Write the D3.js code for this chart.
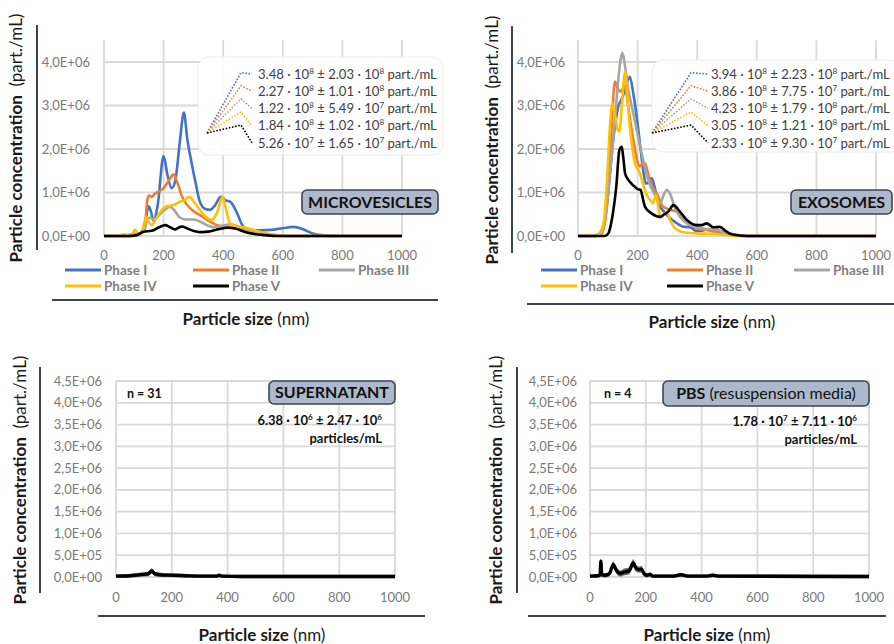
<!DOCTYPE html>
<html><head><meta charset="utf-8">
<script src="https://cdn.jsdelivr.net/npm/d3@7"></script>
<style>
body{margin:0;background:#fff}
svg{display:block;font-family:Lato,"Open Sans",sans-serif}
</style>
</head><body>
<svg id="fig" width="894" height="644"></svg>
<script>
// ---- Data (sizes in nm, concentrations in 10^6 part./mL) ----
const phaseNames = ["Phase I", "Phase II", "Phase III", "Phase IV", "Phase V"];
const phaseColors = ["#4472c4", "#ed7d31", "#a5a5a5", "#ffc000", "#000000"];
const xTicks = [0, 200, 400, 600, 800, 1000];
const yTicksTop = [0, 1, 2, 3, 4];
const yTicksBottom = [0, 0.5, 1, 1.5, 2, 2.5, 3, 3.5, 4, 4.5];

// Microvesicles, one [size, conc] list per phase
const mvPhase1 = [[0,0],[60,0],[110,0.02],[135,0.2],[150,0.68],[158,0.55],[166,0.35],[180,0.7],[200,1.84],[213,1.4],[227,1.1],[240,1.3],[255,2.2],[268,2.84],[280,2.2],[294,1.68],[308,1.2],[322,0.78],[340,0.62],[356,0.6],[372,0.7],[392,0.9],[408,0.82],[425,0.78],[445,0.55],[467,0.22],[490,0.14],[520,0.13],[560,0.14],[600,0.18],[636,0.21],[670,0.15],[700,0.06],[730,0.02],[780,0],[1000,0]];
const mvPhase2 = [[0,0],[60,0],[100,0.03],[125,0.08],[138,0.3],[146,0.85],[152,0.93],[160,0.9],[170,0.97],[185,1.03],[200,1.1],[215,1.25],[233,1.41],[245,1.25],[261,0.92],[275,0.75],[289,0.64],[305,0.55],[322,0.48],[340,0.4],[356,0.33],[380,0.25],[400,0.22],[430,0.2],[460,0.17],[500,0.12],[540,0.05],[580,0.02],[620,0],[1000,0]];
const mvPhase3 = [[0,0],[60,0],[110,0.02],[135,0.12],[145,0.38],[155,0.42],[165,0.38],[180,0.45],[200,0.58],[221,0.67],[235,0.6],[255,0.42],[275,0.38],[300,0.38],[320,0.34],[345,0.25],[370,0.2],[400,0.24],[425,0.27],[450,0.22],[480,0.14],[510,0.08],[550,0.03],[600,0],[1000,0]];
const mvPhase4 = [[0,0],[50,0],[65,0.04],[80,0.03],[95,0.05],[104,0.14],[115,0.04],[128,0.1],[141,0.44],[150,0.33],[160,0.25],[175,0.4],[194,0.6],[210,0.68],[225,0.7],[240,0.73],[255,0.79],[270,0.82],[286,0.9],[300,0.8],[322,0.6],[340,0.45],[361,0.37],[380,0.55],[398,0.9],[410,0.6],[423,0.29],[445,0.22],[470,0.2],[500,0.14],[530,0.08],[570,0.03],[620,0],[1000,0]];
const mvPhase5 = [[0,0],[80,0],[110,0.02],[132,0.1],[160,0.12],[185,0.2],[205,0.25],[222,0.2],[238,0.15],[250,0.19],[261,0.22],[280,0.17],[305,0.11],[330,0.09],[350,0.1],[380,0.15],[416,0.19],[440,0.17],[470,0.1],[500,0.05],[540,0.02],[580,0],[1000,0]];

// Exosomes, one [size, conc] list per phase
const exoPhase1 = [[0,0],[50,0],[70,0.02],[85,0.2],[100,0.9],[118,2.2],[135,2.97],[150,3.2],[165,3.55],[174,3.66],[185,3.3],[197,2.74],[210,2.0],[219,1.5],[228,1.2],[238,1.25],[247,1.33],[258,1.1],[270,0.75],[290,0.55],[309,0.41],[330,0.3],[350,0.22],[376,0.2],[395,0.12],[410,0.11],[430,0.15],[450,0.12],[480,0.08],[520,0.03],[560,0],[1000,0]];
const exoPhase2 = [[0,0],[50,0],[75,0.02],[90,0.3],[100,0.9],[112,2.4],[124,3.55],[133,3.4],[141,3.32],[150,3.38],[158,3.4],[170,2.9],[186,2.2],[200,1.7],[208,1.6],[218,1.68],[225,1.67],[240,1.3],[252,1.1],[264,0.98],[286,0.67],[310,0.6],[331,0.56],[350,0.4],[376,0.25],[400,0.18],[432,0.14],[470,0.08],[510,0.04],[560,0],[1000,0]];
const exoPhase3 = [[0,0],[40,0],[70,0.05],[90,0.4],[105,1.3],[118,2.2],[130,3.2],[140,3.9],[149,4.21],[158,3.9],[169,3.36],[183,2.9],[197,2.44],[212,1.95],[225,1.55],[240,1.2],[258,0.95],[275,0.75],[288,0.95],[298,1.06],[310,0.95],[325,0.65],[342,0.44],[370,0.27],[400,0.2],[430,0.16],[460,0.15],[500,0.07],[540,0.02],[580,0],[1000,0]];
const exoPhase4 = [[0,0],[30,0],[40,0.03],[55,0],[75,0.05],[88,0.4],[100,1.6],[108,2.6],[115,3.05],[125,2.75],[133,2.45],[139,2.4],[147,3.0],[158,3.78],[166,3.2],[174,2.51],[183,2.0],[191,1.67],[200,1.55],[208,1.44],[218,1.2],[230,0.95],[242,0.83],[252,0.75],[262,0.94],[270,0.65],[277,0.42],[288,0.5],[298,0.55],[310,0.35],[331,0.15],[360,0.08],[400,0.06],[450,0.05],[500,0.02],[540,0],[1000,0]];
const exoPhase5 = [[0,0],[90,0],[102,0.06],[110,0.25],[118,0.56],[128,1.1],[139,1.98],[147,2.05],[152,1.8],[158,1.44],[169,1.29],[180,1.2],[191,1.13],[200,1.08],[210,1.06],[218,0.85],[225,0.67],[247,0.52],[262,0.46],[275,0.44],[290,0.5],[303,0.56],[320,0.71],[340,0.58],[365,0.37],[398,0.25],[415,0.25],[432,0.29],[454,0.2],[476,0.21],[495,0.12],[510,0.05],[540,0.01],[570,0],[1000,0]];

// Supernatant and PBS: mean and standard deviation
const supSize = [0,50,80,100,115,128,140,160,200,250,300,360,370,380,450,1000];
const supMean = [0.02,0.03,0.05,0.06,0.07,0.14,0.07,0.05,0.04,0.03,0.02,0.02,0.04,0.02,0.01,0.01];
const supSd   = [0.04,0.04,0.05,0.05,0.05,0.06,0.05,0.05,0.04,0.04,0.04,0.04,0.04,0.04,0.04,0.04];
const pbsSize = [0,30,36,39,42,55,70,83,95,108,125,140,155,165,176,185,193,205,215,225,300,326,350,420,440,460,1000];
const pbsMean = [0.02,0.03,0.05,0.36,0.05,0.04,0.08,0.28,0.15,0.08,0.12,0.14,0.32,0.2,0.17,0.18,0.08,0.04,0.06,0.02,0.02,0.05,0.02,0.02,0.04,0.02,0.01];
const pbsSd   = [0.04,0.04,0.05,0.08,0.05,0.05,0.06,0.08,0.08,0.07,0.08,0.08,0.09,0.08,0.07,0.07,0.06,0.05,0.05,0.04,0.04,0.04,0.04,0.04,0.04,0.04,0.04];

// Concentration totals: [mean mantissa, exponent, sd mantissa, exponent]
const mvTotals  = [["3.48","8","2.03","8"],["2.27","8","1.01","8"],["1.22","8","5.49","7"],["1.84","8","1.02","8"],["5.26","7","1.65","7"]];
const exoTotals = [["3.94","8","2.23","8"],["3.86","8","7.75","7"],["4.23","8","1.79","8"],["3.05","8","1.21","8"],["2.33","8","9.30","7"]];
const supTotal = ["6.38","6","2.47","6"];
const pbsTotal = ["1.78","7","7.11","6"];
const supCount = "n = 31";
const pbsCount = "n = 4";

// ---- Drawing ----
const svg = d3.select("#fig");
const gridColor = "#d9d9d9";
const tickColor = "#7a7a7a";
const frameColor = "#3a4656";

function sciLabel(v) {
  const n = v * 1e6;
  if (n === 0) return "0,0E+00";
  const e = Math.floor(Math.log10(n) + 1e-9);
  const m = n / Math.pow(10, e);
  return m.toFixed(1).replace(".", ",") + "E+" + String(e).padStart(2, "0");
}

function concText(sel, t, suffix, size) {
  sel.append("tspan").text(t[0] + " · 10");
  sel.append("tspan").attr("dy", -5).attr("font-size", size * 0.62).text(t[1]);
  sel.append("tspan").attr("dy", 5).text(" ± " + t[2] + " · 10");
  sel.append("tspan").attr("dy", -5).attr("font-size", size * 0.62).text(t[3]);
  sel.append("tspan").attr("dy", 5).text(suffix);
}

function frame(p) {
  const x = d3.scaleLinear().domain([0, 1000]).range([p.x0, p.x1]);
  const y = d3.scaleLinear().domain([0, 4.5]).range([p.yb, p.yt]);
  const g = svg.append("g");
  // grid
  g.selectAll(".hg").data(p.yTicks).join("line")
    .attr("x1", x(0)).attr("x2", x(1000))
    .attr("y1", d => y(d)).attr("y2", d => y(d))
    .attr("stroke", gridColor).attr("stroke-width", 1.8);
  g.selectAll(".vg").data(xTicks).join("line")
    .attr("x1", d => x(d)).attr("x2", d => x(d))
    .attr("y1", y(0)).attr("y2", y(4.5))
    .attr("stroke", gridColor).attr("stroke-width", 1.8);
  // tick labels
  g.selectAll(".yl").data(p.yTicks).join("text")
    .attr("x", p.yLabelX).attr("y", d => y(d)).attr("dy", "0.35em")
    .attr("text-anchor", "end").attr("font-size", 13).attr("fill", tickColor)
    .text(sciLabel);
  g.selectAll(".xl").data(xTicks).join("text")
    .attr("x", d => x(d)).attr("y", p.xLabelY).attr("dy", "0.35em")
    .attr("text-anchor", "middle").attr("font-size", 13).attr("fill", tickColor)
    .text(d => d);
  // side rules
  g.append("line").attr("x1", p.vx).attr("x2", p.vx).attr("y1", p.vy0).attr("y2", p.vy1)
    .attr("stroke", frameColor).attr("stroke-width", 2);
  g.append("line").attr("x1", p.hx0).attr("x2", p.hx1).attr("y1", p.hy).attr("y2", p.hy)
    .attr("stroke", frameColor).attr("stroke-width", 2);
  // axis titles
  const yt = g.append("text")
    .attr("transform", `translate(${p.ytx},${p.yty}) rotate(-90)`)
    .attr("text-anchor", "middle").attr("font-size", 17).attr("fill", "#1a1a1a");
  yt.append("tspan").attr("font-weight", 700).text("Particle concentration");
  yt.append("tspan").attr("xml:space", "preserve").text("  (part./mL)");
  const xt = g.append("text").attr("x", p.xtx).attr("y", p.xty)
    .attr("text-anchor", "middle").attr("font-size", 17).attr("fill", "#1a1a1a");
  xt.append("tspan").attr("font-weight", 700).text("Particle size");
  xt.append("tspan").text(" (nm)");
  return {x, y, g};
}

function tagBox(g, bx, by, bw, bh, parts) {
  g.append("rect").attr("x", bx).attr("y", by).attr("width", bw).attr("height", bh)
    .attr("rx", 5).attr("fill", "#adb9ca").attr("stroke", frameColor).attr("stroke-width", 1.6);
  const t = g.append("text").attr("x", bx + bw / 2).attr("y", by + bh / 2).attr("dy", "0.36em")
    .attr("text-anchor", "middle").attr("font-size", 16).attr("fill", "#111");
  parts.forEach(([s, w]) => t.append("tspan").attr("font-weight", w).text(s));
}

function phasePanel(p, series, totals, tag) {
  const {x, y, g} = frame(p);
  const line = d3.line().x(d => x(d[0])).y(d => y(d[1])).curve(d3.curveMonotoneX);
  // curves
  g.selectAll(".curve").data(series).join("path")
    .attr("d", line).attr("fill", "none")
    .attr("stroke", (d, i) => phaseColors[i]).attr("stroke-width", 2.6)
    .attr("stroke-linejoin", "round");
  // concentration box with callouts, over the curves
  g.append("rect").attr("x", p.ax).attr("y", p.ay).attr("width", p.aw).attr("height", p.ah)
    .attr("rx", 11).attr("fill", "#fff").attr("fill-opacity", 0.92).attr("stroke", "#ececec");
  totals.forEach((t, i) => {
    const rowY = 74 + i * 17.2;
    const peakY = 72.7 + i * 13.1;
    g.append("polyline")
      .attr("points", `${p.ox},133 ${p.px},${peakY} ${p.ex},${rowY}`)
      .attr("fill", "none").attr("stroke", phaseColors[i]).attr("stroke-width", 1.6)
      .attr("stroke-dasharray", "1.6,1.6");
    const tx = g.append("text").attr("x", p.tx).attr("y", rowY).attr("dy", "0.36em")
      .attr("font-size", 13.1).attr("fill", "#404040");
    concText(tx, t, " part./mL", 13.1);
  });
  tagBox(g, p.bx, 190, p.bw, 24, [[tag, 700]]);
  // legend
  const lg = g.append("g");
  phaseNames.forEach((n, i) => {
    const lx = p.legX[i % 3], ly = i < 3 ? 270 : 286;
    lg.append("line").attr("x1", lx).attr("x2", lx + 36).attr("y1", ly).attr("y2", ly)
      .attr("stroke", phaseColors[i]).attr("stroke-width", 3);
    lg.append("text").attr("x", lx + 39).attr("y", ly).attr("dy", "0.36em")
      .attr("font-size", 13.5).attr("font-weight", 700).attr("fill", "#7f7f7f").text(n);
  });
}

function bandPanel(p, sizes, mean, sd, totals, count, tagParts) {
  const {x, y, g} = frame(p);
  const rows = sizes.map((s, i) => ({s, m: mean[i], lo: mean[i] - sd[i], hi: mean[i] + sd[i]}));
  g.append("path").datum(rows)
    .attr("d", d3.area().x(d => x(d.s)).y0(d => y(d.lo)).y1(d => y(d.hi)).curve(d3.curveMonotoneX))
    .attr("fill", "#6f6f6f");
  g.append("path").datum(rows)
    .attr("d", d3.line().x(d => x(d.s)).y(d => y(d.m)).curve(d3.curveMonotoneX))
    .attr("fill", "none").attr("stroke", "#000").attr("stroke-width", 3.4);
  g.append("text").attr("x", p.nx).attr("y", 393).attr("dy", "0.36em")
    .attr("font-size", 12.5).attr("font-weight", 700).attr("fill", "#111").text(count);
  tagBox(g, p.bx, 381, p.bw, p.bh, tagParts);
  const t = g.append("text").attr("x", p.cx).attr("y", p.cy).attr("dy", "0.36em")
    .attr("text-anchor", "end").attr("font-size", 13).attr("font-weight", 700).attr("fill", "#111");
  concText(t, totals, "", 13);
  g.append("text").attr("x", p.cx).attr("y", p.cy + 18).attr("dy", "0.36em")
    .attr("text-anchor", "end").attr("font-size", 13).attr("font-weight", 700).attr("fill", "#111")
    .text("particles/mL");
}

phasePanel({x0:104, x1:402, yb:236, yt:40.25, yTicks:yTicksTop, yLabelX:90, xLabelY:255,
  vx:37, vy0:25, vy1:250, hx0:52, hx1:438, hy:300, ytx:22, yty:138, xtx:246, xty:325,
  ax:198, ay:57, aw:245, ah:98, ox:207, px:241, ex:252, tx:258,
  bx:302, bw:136, legX:[65, 193, 319]},
  [mvPhase1, mvPhase2, mvPhase3, mvPhase4, mvPhase5], mvTotals, "MICROVESICLES");

phasePanel({x0:578, x1:876, yb:236, yt:40.25, yTicks:yTicksTop, yLabelX:565, xLabelY:255,
  vx:512, vy0:26, vy1:253, hx0:527, hx1:894, hy:304, ytx:498, yty:140, xtx:712, xty:328,
  ax:652, ay:60, aw:250, ah:92, ox:652, px:691, ex:708, tx:711,
  bx:791, bw:101, legX:[541, 667, 794]},
  [exoPhase1, exoPhase2, exoPhase3, exoPhase4, exoPhase5], exoTotals, "EXOSOMES");

bandPanel({x0:116, x1:395, yb:577, yt:381, yTicks:yTicksBottom, yLabelX:102, xLabelY:597,
  vx:40, vy0:367, vy1:593, hx0:98, hx1:425, hy:616, ytx:26, yty:480, xtx:262, xty:641,
  nx:127, bx:269, bw:126, bh:23, cx:382, cy:420},
  supSize, supMean, supSd, supTotal, supCount, [["SUPERNATANT", 700]]);

bandPanel({x0:590, x1:869, yb:577, yt:381, yTicks:yTicksBottom, yLabelX:577, xLabelY:597,
  vx:517, vy0:367, vy1:593, hx0:528, hx1:886, hy:616, ytx:502, yty:480, xtx:707, xty:641,
  nx:604, bx:663, bw:206, bh:25, cx:857, cy:421},
  pbsSize, pbsMean, pbsSd, pbsTotal, pbsCount, [["PBS", 700], [" (resuspension media)", 400]]);
</script>
</body></html>
